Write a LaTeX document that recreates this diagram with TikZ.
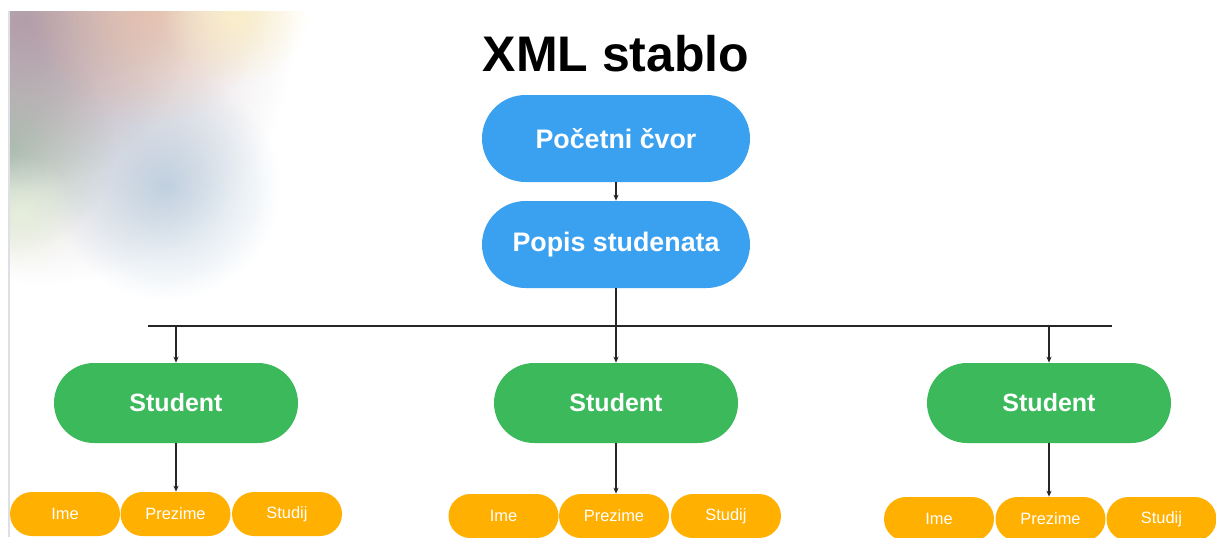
\documentclass[tikz,border=0pt]{standalone}
\usepackage{fontspec}
\setmainfont{Liberation Sans}
\usetikzlibrary{arrows.meta,fadings}
\definecolor{cvorplava}{RGB}{58,160,240}
\definecolor{studzelena}{RGB}{59,185,91}
\definecolor{poljenar}{RGB}{255,176,0}
\definecolor{rubsiva}{RGB}{222,224,230}
\definecolor{mrlja1}{RGB}{165,195,175}
\definecolor{mrlja2}{RGB}{180,200,218}
\definecolor{mrlja3}{RGB}{170,148,160}
\definecolor{mrlja4}{RGB}{232,190,165}
\definecolor{mrlja5}{RGB}{250,238,200}
\definecolor{mrlja6}{RGB}{235,242,220}
\tikzfading[name=rasplin,inner color=transparent!0,outer color=transparent!100]
\begin{document}
\begin{tikzpicture}[x=0.5pt,y=-0.5pt,
		korijen/.style={fill=cvorplava,text=white,font=\fontsize{13.4}{16}\selectfont\bfseries,
			minimum width=134pt,minimum height=43.5pt,rounded corners=21.75pt,inner sep=0pt},
		student/.style={fill=studzelena,text=white,font=\fontsize{12.5}{15}\selectfont\bfseries,
			minimum width=122pt,minimum height=40pt,rounded corners=20pt,inner sep=0pt},
		polje/.style={fill=poljenar,text=white,font=\fontsize{8.2}{10}\selectfont,
			minimum width=55pt,minimum height=22pt,rounded corners=11pt,inner sep=0pt},
		veza/.style={line width=0.6pt,black!85},
		strelica/.style={veza,-{Stealth[length=3pt,width=2.6pt]}}]
				\useasboundingbox (0,0) rectangle (1216,537);
				% pozadina gore lijevo
				\begin{scope}
					\clip (9,11) rectangle (330,310);
					\fill[mrlja3,path fading=rasplin,fill opacity=0.6] (40,30) circle (255);
					\fill[mrlja2,path fading=rasplin,fill opacity=0.8] (165,185) circle (115);
					\fill[mrlja1,path fading=rasplin,fill opacity=0.9] (5,145) circle (110);
					\fill[mrlja6,path fading=rasplin,fill opacity=0.8] (20,215) circle (60);
					\fill[mrlja3,path fading=rasplin,fill opacity=0.8] (20,20) circle (170);
					\fill[mrlja4,path fading=rasplin,fill opacity=0.8] (150,5) circle (120);
					\fill[mrlja5,path fading=rasplin] (235,10) circle (75);
				\end{scope}
				\draw[rubsiva,line width=0.8pt] (9,11) -- (9,537);
				% naslov
				\node[anchor=base,font=\fontsize{25}{30}\selectfont\bfseries] (naslov) at (616,71) {XML stablo};
				% korijen
				\node[korijen] (pocetni) at (616,138.5) {Početni čvor};
				\node[korijen] (popis) at (616,244.5) {Popis studenata};
				\draw[strelica] (pocetni) -- (popis);
				% sabirnica
				\coordinate (busL) at (148,326);
				\coordinate (busR) at (1112,326);
				\draw[veza] (busL) -- (busR);
				% studenti
				\node[student] (st1) at (176,403) {Student};
				\node[student] (st2) at (616,403) {Student};
				\node[student] (st3) at (1049,403) {Student};
				\draw[strelica] (popis) -- (st2);
				\draw[strelica] (st1 |- busL) -- (st1);
				\draw[strelica] (st3 |- busL) -- (st3);
				% polja
				\node[polje] (ime1) at (65,514) {Ime};
				\node[polje] (prez1) at (175.5,514) {Prezime};
				\node[polje] (stud1) at (287,514) {Studij};
				\node[polje] (ime2) at (503.5,516) {Ime};
				\node[polje] (prez2) at (614,516) {Prezime};
				\node[polje] (stud2) at (726,516) {Studij};
				\node[polje] (ime3) at (939,519) {Ime};
				\node[polje] (prez3) at (1050.5,519) {Prezime};
				\node[polje] (stud3) at (1161.5,519) {Studij};
				\draw[strelica] (st1) -- (st1 |- prez1.north);
				\draw[strelica] (st2) -- (st2 |- prez2.north);
				\draw[strelica] (st3) -- (st3 |- prez3.north);
\end{tikzpicture}
\end{document}
